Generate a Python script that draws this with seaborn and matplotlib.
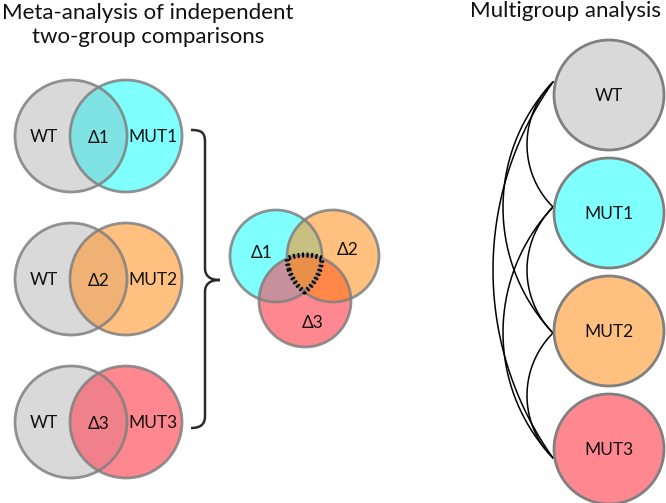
import numpy as np
import matplotlib
matplotlib.use("Agg")
import matplotlib.pyplot as plt
from matplotlib.patches import Circle, Polygon, PathPatch
from matplotlib.path import Path
import seaborn as sns

# --- chart content -------------------------------------------------------
title_left = ["Meta-analysis of independent", "two-group comparisons"]
title_right = "Multigroup analysis"
control_label = "WT"
mutant_labels = ["MUT1", "MUT2", "MUT3"]
delta_labels = ["Δ1", "Δ2", "Δ3"]
group_labels = ["WT", "MUT1", "MUT2", "MUT3"]
group_colors = ["#D9D9D9", "#80FFFF", "#FFC080", "#FF8890"]
overlap_colors = ["#80E3E3", "#F0B274", "#F0808A"]
pair_overlap_colors = {(0, 1): "#C8C080", (0, 2): "#C8909A", (1, 2): "#FF8848"}
triple_color = "#E8904A"
links = [(0, 1), (0, 2), (0, 3), (1, 2), (1, 3), (2, 3)]

# --- layout (pixels, y down) --------------------------------------------
W, H = 666, 503
EDGE = "#808080"
row_y = [136, 279, 422]
wt_x, mut_x, r_pair = 71, 126, 56
venn_c = [(276, 256), (333, 256), (305, 301)]
venn_r = 46
venn_lab = [(262, 253), (348, 250), (313, 323)]
node_x, node_r = 609, 55
node_y = [95, 213, 331, 449]
link_x = 553
link_y = [82, 207, 333, 458]
sagitta = {1: 26, 2: 50, 3: 60}

sns.set_theme(style="white")
plt.rcParams["font.family"] = ["Lato", "DejaVu Sans"]

fig = plt.figure(figsize=(W / 100, H / 100), dpi=100)
ax = fig.add_axes([0, 0, 1, 1])
ax.set_xlim(0, W)
ax.set_ylim(H, 0)
ax.set_aspect("equal")
ax.axis("off")

lab_kw = dict(ha="center", va="center", fontsize=12.5, color="#111111")

# two-group Venns
for i, y in enumerate(row_y):
    wt = Circle((wt_x, y), r_pair, facecolor=group_colors[0], edgecolor="none", zorder=1)
    mut = Circle((mut_x, y), r_pair, facecolor=group_colors[i + 1], edgecolor="none", zorder=2)
    ax.add_patch(wt)
    ax.add_patch(mut)
    ov = Circle((mut_x, y), r_pair, facecolor=overlap_colors[i], edgecolor="none", zorder=3)
    ax.add_patch(ov)
    ov.set_clip_path(wt)
    for cx in (wt_x, mut_x):
        ax.add_patch(Circle((cx, y), r_pair, fill=False, edgecolor=EDGE, lw=2, alpha=0.85, zorder=4))
    ax.text(wt_x - 27, y + 1, control_label, **lab_kw)
    ax.text((wt_x + mut_x) / 2, y + 2, delta_labels[i], **lab_kw)
    ax.text(mut_x + 27, y + 1, mutant_labels[i], **lab_kw)

# brace
bv = [(191, 130), (201, 130), (205, 132), (205, 142), (205, 268),
      (205, 276), (210, 280), (220, 280), (210, 280), (205, 284), (205, 292),
      (205, 416), (205, 424), (201, 428), (191, 428)]
bc = [Path.MOVETO, Path.CURVE4, Path.CURVE4, Path.CURVE4, Path.LINETO,
      Path.CURVE4, Path.CURVE4, Path.CURVE4, Path.CURVE4, Path.CURVE4, Path.CURVE4,
      Path.LINETO, Path.CURVE4, Path.CURVE4, Path.CURVE4]
ax.add_patch(PathPatch(Path(bv, bc), fill=False, edgecolor="#2b2b2b", lw=1.8, zorder=5))

# three-way Venn of the deltas
vc = []
for k, c in enumerate(venn_c):
    p = Circle(c, venn_r, facecolor=group_colors[k + 1], edgecolor="none", zorder=1)
    ax.add_patch(p)
    vc.append(p)
for (a, b), col in pair_overlap_colors.items():
    p = Circle(venn_c[b], venn_r, facecolor=col, edgecolor="none", zorder=2)
    ax.add_patch(p)
    p.set_clip_path(vc[a])

# triple intersection outline
t = np.linspace(0, 2 * np.pi, 1440, endpoint=False)
pts = []
centers = np.array(venn_c, dtype=float)
for k in range(3):
    ring = centers[k] + venn_r * np.c_[np.cos(t), np.sin(t)]
    keep = np.ones(len(t), bool)
    for j in range(3):
        if j != k:
            keep &= np.hypot(*(ring - centers[j]).T) <= venn_r + 1e-6
    pts.append(ring[keep])
pts = np.vstack(pts)
cen = pts.mean(axis=0)
pts = pts[np.argsort(np.arctan2(pts[:, 1] - cen[1], pts[:, 0] - cen[0]))]
ax.add_patch(Polygon(pts, closed=True, facecolor=triple_color, edgecolor="none", zorder=3))
for c in venn_c:
    ax.add_patch(Circle(c, venn_r, fill=False, edgecolor=EDGE, lw=2, alpha=0.85, zorder=4))
closed = np.vstack([pts, pts[:1]])
ax.plot(closed[:, 0], closed[:, 1], color="black", lw=3.6,
        linestyle=(0, (0.4, 0.5)), solid_capstyle="butt", zorder=6)
for k, (lx, ly) in enumerate(venn_lab):
    ax.text(lx, ly, delta_labels[k], **lab_kw)

# multigroup nodes
for k, y in enumerate(node_y):
    ax.add_patch(Circle((node_x, y), node_r, facecolor=group_colors[k],
                        edgecolor=EDGE, lw=2, zorder=3))
    ax.text(node_x, y + 1, group_labels[k], **lab_kw)

# links between every pair of groups: circular arcs bulging left
for a, b in links:
    y0, y1 = link_y[a], link_y[b]
    L = y1 - y0
    s = sagitta[b - a]
    R = (s ** 2 + (L / 2) ** 2) / (2 * s)
    cy = (y0 + y1) / 2
    cx = link_x - s + R
    half = np.arcsin((L / 2) / R)
    ang = np.linspace(np.pi - half, np.pi + half, 200)
    ax.plot(cx + R * np.cos(ang), cy + R * np.sin(ang), color="black", lw=1.1, zorder=2)

# titles
ax.text(148, 19, title_left[0], ha="center", va="baseline", fontsize=16, color="#111111")
ax.text(148, 43, title_left[1], ha="center", va="baseline", fontsize=16, color="#111111")
ax.text(566, 17, title_right, ha="center", va="baseline", fontsize=16, color="#111111")

fig.savefig("out.png", dpi=100)
